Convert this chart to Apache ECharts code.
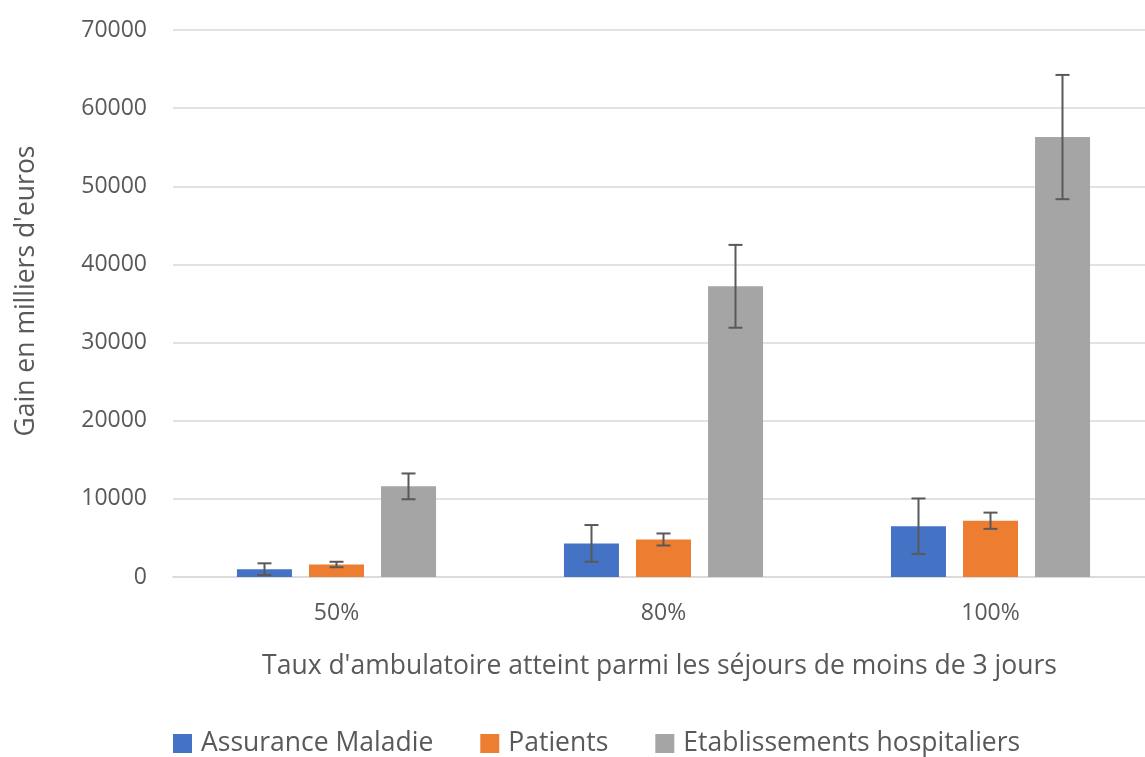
<!DOCTYPE html>
<html>
<head>
<meta charset="utf-8">
<script src="https://cdn.jsdelivr.net/npm/echarts@6/dist/echarts.min.js"></script>
<style>
  html, body { margin: 0; padding: 0; background: #fff; }
  #main { width: 1145px; height: 757px; }
</style>
</head>
<body>
<div id="main"></div>
<script>
  // données
  var categories = ['50%', '80%', '100%'];
  var seriesNames = ['Assurance Maladie', 'Patients', 'Etablissements hospitaliers'];
  var assurance = [1000, 4300, 6500];
  var assuranceErr = [750, 2350, 3550];
  var patients = [1600, 4800, 7200];
  var patientsErr = [350, 770, 1040];
  var etablissements = [11600, 37200, 56300];
  var etablissementsErr = [1650, 5300, 7950];
  var yTicks = [0, 10000, 20000, 30000, 40000, 50000, 60000, 70000];

  var colors = ['#4472C4', '#ED7D31', '#A5A5A5'];
  var values = [assurance, patients, etablissements];
  var errors = [assuranceErr, patientsErr, etablissementsErr];
  var textColor = '#595959';
  var font = 'Open Sans';
  var barW = 55, barGap = 17;

  var chart = echarts.init(document.getElementById('main'));

  function errorSeries(idx) {
    var data = values[idx].map(function (v, i) {
      return [i, v - errors[idx][i], v + errors[idx][i]];
    });
    return {
      type: 'custom',
      name: seriesNames[idx] + ' err',
      z: 10,
      data: data,
      renderItem: function (params, api) {
        var low = api.coord([api.value(0), api.value(1)]);
        var high = api.coord([api.value(0), api.value(2)]);
        var x = low[0] + (idx - 1) * (barW + barGap);
        var cap = 7;
        var style = { stroke: '#595959', lineWidth: 2 };
        return {
          type: 'group',
          children: [
            { type: 'line', shape: { x1: x, y1: high[1], x2: x, y2: low[1] }, style: style },
            { type: 'line', shape: { x1: x - cap, y1: high[1], x2: x + cap, y2: high[1] }, style: style },
            { type: 'line', shape: { x1: x - cap, y1: low[1], x2: x + cap, y2: low[1] }, style: style }
          ]
        };
      },
      tooltip: { show: false }
    };
  }

  var series = [];
  seriesNames.forEach(function (name, idx) {
    series.push({
      type: 'bar',
      name: name,
      data: values[idx],
      barWidth: barW,
      barGap: (barGap / barW * 100).toFixed(0) + '%',
      itemStyle: { color: colors[idx] }
    });
  });
  seriesNames.forEach(function (name, idx) {
    series.push(errorSeries(idx));
  });

  chart.setOption({
    animation: false,
    textStyle: { fontFamily: font },
    grid: { left: 173, width: 981, top: 30, bottom: 180, outerBoundsMode: 'none' },
    legend: {
      data: seriesNames,
      top: 725,
      left: 168,
      itemWidth: 19,
      itemHeight: 19,
      itemGap: 47,
      icon: 'rect',
      textStyle: { color: textColor, fontSize: 26.5, fontFamily: font, padding: [0, 0, 0, 4] }
    },
    xAxis: {
      type: 'category',
      data: categories,
      axisTick: { show: false },
      axisLine: { lineStyle: { color: '#d9d9d9', width: 1.5 } },
      axisLabel: { color: textColor, fontSize: 23, margin: 25 },
      name: "Taux d'ambulatoire atteint parmi les séjours de moins de 3 jours",
      nameLocation: 'middle',
      nameGap: 76,
      nameTextStyle: { color: textColor, fontSize: 26.5, padding: [0, 8, 0, 0] }
    },
    yAxis: {
      type: 'value',
      min: yTicks[0],
      max: yTicks[yTicks.length - 1],
      interval: yTicks[1] - yTicks[0],
      axisLine: { show: false },
      axisTick: { show: false },
      splitLine: { lineStyle: { color: '#d9d9d9', width: 1.5 } },
      axisLabel: { color: textColor, fontSize: 23, margin: 26, formatter: function (v) { return String(v); } },
      name: "Gain en milliers d'euros",
      nameLocation: 'middle',
      nameGap: 133,
      nameTextStyle: { color: textColor, fontSize: 26.5, padding: [0, 0, 0, 25] }
    },
    series: series
  });
</script>
</body>
</html>
